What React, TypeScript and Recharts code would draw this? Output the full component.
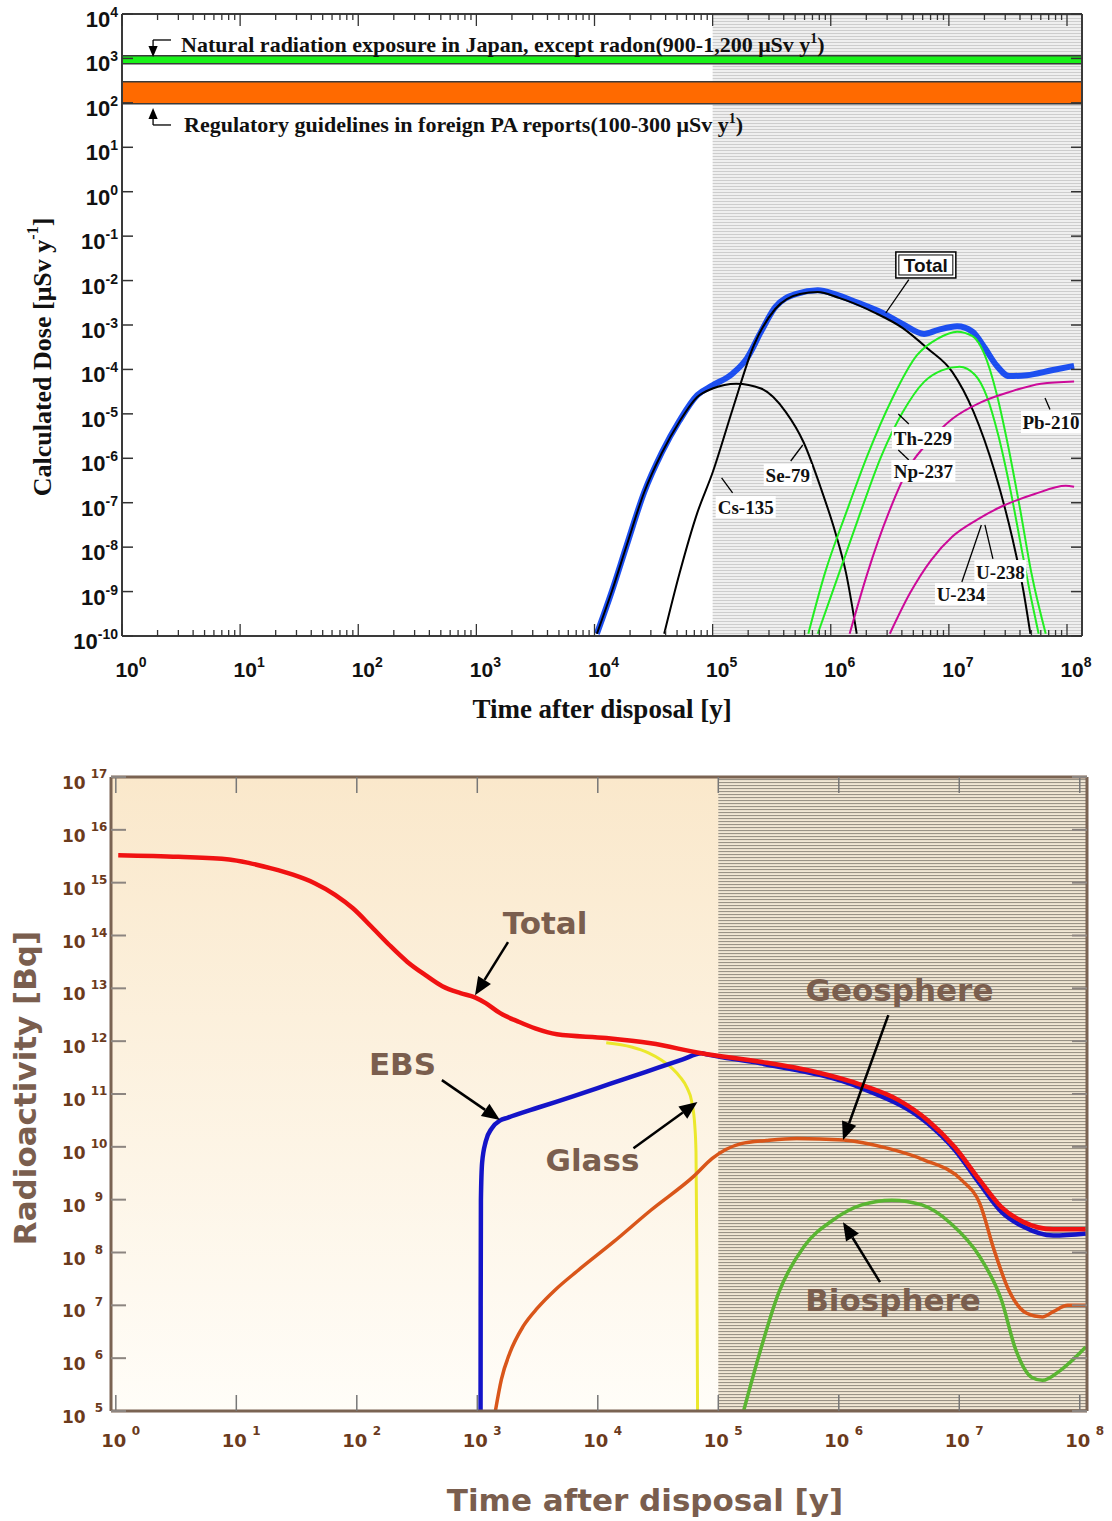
import React from 'react';
import { LineChart, Line, XAxis, YAxis, ReferenceArea, ReferenceLine, ReferenceDot, Label } from 'recharts';

type Pt = [number, number];

// ---- upper chart: log10(time [y]) vs log10(dose [uSv/y]) ----
const doseTotal: Pt[] = [
  [4.02, -9.95], [4.15, -8.97], [4.27, -7.98], [4.42, -6.77], [4.57, -5.87], [4.72, -5.15],
  [4.87, -4.58], [5.0, -4.36], [5.17, -4.09], [5.29, -3.75], [5.41, -3.15], [5.53, -2.6],
  [5.71, -2.3], [5.89, -2.22], [6.04, -2.31], [6.22, -2.49], [6.43, -2.72], [6.61, -2.98],
  [6.79, -3.2], [6.91, -3.11], [7.07, -3.03], [7.2, -3.15], [7.3, -3.5], [7.4, -3.9],
  [7.51, -4.15], [7.66, -4.13], [7.87, -4.02], [8.06, -3.92],
];
const doseSe79: Pt[] = [
  [4.02, -9.95], [4.15, -8.97], [4.27, -7.98], [4.42, -6.77], [4.57, -5.88], [4.72, -5.17],
  [4.87, -4.62], [5.0, -4.43], [5.2, -4.32], [5.41, -4.43], [5.62, -4.96], [5.77, -5.64],
  [5.92, -6.7], [6.04, -7.68], [6.13, -8.59], [6.22, -9.95],
];
const doseCs135: Pt[] = [
  [4.59, -9.95], [4.72, -8.59], [4.87, -7.23], [5.0, -6.32], [5.17, -4.89], [5.35, -3.45],
  [5.53, -2.64], [5.74, -2.3], [5.89, -2.26], [6.07, -2.39], [6.37, -2.72], [6.61, -3.07],
  [6.82, -3.53], [7.03, -4.06], [7.21, -4.96], [7.39, -6.32], [7.54, -7.83], [7.63, -8.97],
  [7.69, -9.95],
];
const doseNp237: Pt[] = [
  [5.81, -9.95], [5.95, -8.59], [6.13, -7.23], [6.31, -5.94], [6.52, -4.66], [6.73, -3.68],
  [6.91, -3.3], [7.07, -3.15], [7.2, -3.25], [7.3, -3.65], [7.4, -4.5], [7.5, -5.7],
  [7.6, -7.1], [7.7, -8.6], [7.82, -9.95],
];
const doseTh229: Pt[] = [
  [5.89, -9.95], [6.07, -8.59], [6.25, -7.23], [6.43, -5.94], [6.61, -4.96], [6.79, -4.28],
  [6.94, -4.02], [7.09, -3.94], [7.22, -4.12], [7.32, -4.6], [7.42, -5.5], [7.52, -6.7],
  [7.62, -8.1], [7.7, -9.2], [7.76, -9.95],
];
const dosePb210: Pt[] = [
  [6.16, -9.95], [6.31, -8.59], [6.49, -7.23], [6.67, -6.17], [6.85, -5.57], [7.03, -5.11],
  [7.27, -4.74], [7.51, -4.51], [7.78, -4.32], [8.06, -4.27],
];
const doseU238U234: Pt[] = [
  [6.5, -9.95], [6.67, -9.04], [6.85, -8.29], [7.03, -7.76], [7.24, -7.38], [7.45, -7.08],
  [7.72, -6.81], [7.99, -6.62], [8.06, -6.64],
];
const naturalBand = [760, 1150]; // uSv/y, as drawn
const regulatoryBand = [95, 300];

// ---- lower chart: log10(time [y]) vs log10(activity [Bq]) ----
const actTotal: Pt[] = [
  [0.02, 15.52], [0.52, 15.49], [0.94, 15.44], [1.11, 15.37], [1.29, 15.27], [1.47, 15.15],
  [1.65, 14.99], [1.82, 14.77], [1.97, 14.51], [2.12, 14.17], [2.27, 13.82], [2.42, 13.5],
  [2.57, 13.25], [2.71, 13.04], [2.86, 12.91], [2.98, 12.83], [3.07, 12.72], [3.19, 12.53],
  [3.34, 12.37], [3.48, 12.24], [3.66, 12.13], [4.07, 12.06], [4.44, 11.96], [4.86, 11.77],
  [5.35, 11.61], [5.8, 11.42], [6.19, 11.17], [6.5, 10.88], [6.74, 10.5], [6.96, 10.0],
  [7.17, 9.37], [7.35, 8.86], [7.53, 8.58], [7.78, 8.44], [8.05, 8.44],
];
const actEbs: Pt[] = [
  [3.027, 5.0], [3.028, 7.0], [3.03, 9.0], [3.04, 9.7], [3.07, 10.1], [3.12, 10.35],
  [3.19, 10.5], [3.25, 10.55], [3.5, 10.74], [3.8, 10.96], [4.1, 11.19], [4.4, 11.42],
  [4.7, 11.65], [4.86, 11.77], [4.9, 11.75], [5.35, 11.58], [6.19, 11.11], [6.74, 10.44],
  [6.96, 9.95], [7.17, 9.3], [7.35, 8.77], [7.53, 8.49], [7.78, 8.32], [8.05, 8.36],
];
const actGlass: Pt[] = [
  [4.07, 11.97], [4.28, 11.89], [4.42, 11.78], [4.53, 11.64], [4.62, 11.48], [4.68, 11.33],
  [4.74, 11.12], [4.78, 10.85], [4.805, 10.4], [4.815, 9.9], [4.822, 8.0], [4.828, 5.0],
];
const actGeosphere: Pt[] = [
  [3.15, 5.0], [3.2, 5.6], [3.27, 6.1], [3.38, 6.6], [3.5, 6.95], [3.65, 7.3], [3.83, 7.65],
  [4.13, 8.2], [4.44, 8.8], [4.8, 9.45], [4.95, 9.78], [5.19, 10.06], [5.4, 10.12], [5.65, 10.16],
  [6.04, 10.13], [6.41, 9.97], [6.71, 9.75], [7.02, 9.37], [7.17, 8.93], [7.29, 8.04], [7.41, 7.29],
  [7.56, 6.85], [7.69, 6.78], [7.78, 6.88], [7.9, 7.0], [8.05, 7.0],
];
const actBiosphere: Pt[] = [
  [5.21, 5.0], [5.35, 6.15], [5.5, 7.23], [5.71, 8.11], [5.95, 8.61], [6.19, 8.9], [6.44, 8.99],
  [6.69, 8.9], [6.93, 8.55], [7.17, 7.92], [7.35, 7.1], [7.47, 6.15], [7.6, 5.64], [7.69, 5.58],
  [7.84, 5.77], [8.05, 6.21],
];

// ---- axes ----
const doseXDecades = [0, 1, 2, 3, 4, 5, 6, 7, 8];
const doseYDecades = [-10, -9, -8, -7, -6, -5, -4, -3, -2, -1, 0, 1, 2, 3, 4];
const actXDecades = [0, 1, 2, 3, 4, 5, 6, 7, 8];
const actYDecades = [5, 6, 7, 8, 9, 10, 11, 12, 13, 14, 15, 16, 17];
const minorSteps = [2, 3, 4, 5, 6, 7, 8, 9];

const doseXTicks = [
  ...doseXDecades,
  ...doseXDecades.slice(0, -1).flatMap((d) => minorSteps.map((k) => d + Math.log10(k))),
].sort((a, b) => a - b);

const rows = (pts: Pt[]) => pts.map(([t, v]) => ({ t, v }));

const SERIF = '"Liberation Serif", "Times New Roman", serif';
const SANS = '"Liberation Sans", Arial, sans-serif';
const VERD = '"DejaVu Sans", Verdana, sans-serif';
const BROWN = '#7a5e4e';
const TICK_BROWN = '#6b3a1c';

function DoseXTick({ x, y, payload, side }: any) {
  const v = payload.value;
  const major = Number.isInteger(v);
  const dir = side === 'top' ? 1 : -1;
  return (
    <g>
      <line x1={x} y1={y} x2={x} y2={y + dir * (major ? 12 : 6)} stroke="#333" strokeWidth={1.3} />
      {major && side === 'bottom' && (
        <text x={x + 9} y={y + 41} textAnchor="middle" fontFamily={SANS} fontWeight="bold" fontSize={21} fill="#111">
          10<tspan dy={-10} fontSize={14}>{v}</tspan>
        </text>
      )}
    </g>
  );
}

function DoseYTick({ x, y, payload, side }: any) {
  const dir = side === 'left' ? 1 : -1;
  return (
    <g>
      <line x1={x} y1={y} x2={x + dir * 11} y2={y} stroke="#333" strokeWidth={1.5} />
      {side === 'left' && (
        <text x={x - 4} y={y + 13} textAnchor="end" fontFamily={SANS} fontWeight="bold" fontSize={22} fill="#111">
          10<tspan dy={-10} fontSize={14}>{payload.value}</tspan>
        </text>
      )}
    </g>
  );
}

function ActXTick({ x, y, payload, side }: any) {
  const dir = side === 'top' ? 1 : -1;
  return (
    <g>
      <line x1={x} y1={y} x2={x} y2={y + dir * 16} stroke="#777" strokeWidth={1.5} />
      {side === 'bottom' && (
        <g fontFamily={VERD} fontWeight="bold" fill={TICK_BROWN}>
          <text x={x - 2} y={y + 36} textAnchor="middle" fontSize={18}>10</text>
          <text x={x + 16} y={y + 24} textAnchor="start" fontSize={12}>{payload.value}</text>
        </g>
      )}
    </g>
  );
}

function ActYTick({ x, y, payload, side }: any) {
  const dir = side === 'left' ? 1 : -1;
  return (
    <g>
      <line x1={x} y1={y} x2={x + dir * 15} y2={y} stroke="#8c8580" strokeWidth={2} />
      {side === 'left' && (
        <g fontFamily={VERD} fontWeight="bold" fill={TICK_BROWN}>
          <text x={x - 49} y={y + 12} textAnchor="start" fontSize={17}>10</text>
          <text x={x - 12} y={y + 1} textAnchor="middle" fontSize={12}>{payload.value}</text>
        </g>
      )}
    </g>
  );
}

// line with a filled arrow head at its second point
const arrow = (color: string, width: number, head: number) => (p: any) => {
  const { x1, y1, x2, y2 } = p;
  const a = Math.atan2(y2 - y1, x2 - x1);
  const hx = x2 - head * Math.cos(a);
  const hy = y2 - head * Math.sin(a);
  const nx = -Math.sin(a) * head * 0.42;
  const ny = Math.cos(a) * head * 0.42;
  return (
    <g>
      <line x1={x1} y1={y1} x2={hx} y2={hy} stroke={color} strokeWidth={width} />
      <polygon points={`${x2},${y2} ${hx + nx},${hy + ny} ${hx - nx},${hy - ny}`} fill={color} />
    </g>
  );
};

const nuclide = (text: string, w: number) => (p: any) => (
  <g>
    <rect x={p.cx - w / 2} y={p.cy - 11} width={w} height={22} fill="#fff" />
    <text x={p.cx} y={p.cy + 1} textAnchor="middle" dominantBaseline="central" fontFamily={SERIF} fontWeight="bold" fontSize={19} fill="#111">
      {text}
    </text>
  </g>
);

const bigNote = (text: string) => (p: any) => (
  <text x={p.cx} y={p.cy} textAnchor="middle" dominantBaseline="central" fontFamily={VERD} fontWeight="bold" fontSize={31} fill={BROWN}>
    {text}
  </text>
);

function DoseChart() {
  const lineProps = { dataKey: 'v', type: 'monotone' as const, dot: false, isAnimationActive: false };
  const frame = { stroke: '#3a3a3a', strokeWidth: 2 };
  return (
    <LineChart width={1112} height={740} margin={{ top: 13, right: 29, bottom: 103, left: 121 }}>
      <defs>
        <pattern id="doseStripes" width={8} height={3} patternUnits="userSpaceOnUse">
          <rect width={8} height={3} fill="#efefef" />
          <rect width={8} height={1} fill="#cdcdcd" />
        </pattern>
      </defs>
      <XAxis
        dataKey="t" type="number" domain={[0, 8.127]} allowDataOverflow ticks={doseXTicks} interval={0}
        height={1} tickSize={0} tickMargin={0} tickLine={false} axisLine={frame}
        tick={(p: any) => <DoseXTick {...p} side="bottom" />}
      >
        <Label
          content={(p: any) => (
            <text x={p.viewBox.x + p.viewBox.width / 2} y={p.viewBox.y + 82} textAnchor="middle" fontFamily={SERIF} fontWeight="bold" fontSize={27} fill="#111">
              Time after disposal [y]
            </text>
          )}
        />
      </XAxis>
      <XAxis
        xAxisId="top" orientation="top" dataKey="t" type="number" domain={[0, 8.127]} allowDataOverflow
        ticks={doseXTicks} interval={0} height={1} tickSize={0} tickMargin={0} tickLine={false}
        axisLine={frame} tick={(p: any) => <DoseXTick {...p} side="top" />}
      />
      <YAxis
        type="number" domain={[-10, 4]} allowDataOverflow ticks={doseYDecades} interval={0} width={1}
        tickSize={0} tickMargin={0} tickLine={false} axisLine={frame}
        tick={(p: any) => <DoseYTick {...p} side="left" />}
      >
        <Label
          content={() => {
            const cx = 42;
            const cy = 357;
            return (
              <text x={cx} y={cy} transform={`rotate(-90 ${cx} ${cy})`} textAnchor="middle" dominantBaseline="central" fontFamily={SERIF} fontWeight="bold" fontSize={26} fill="#111">
                Calculated Dose [μSv y<tspan dy={-10} fontSize={16}>-1</tspan><tspan dy={10}>]</tspan>
              </text>
            );
          }}
        />
      </YAxis>
      <YAxis
        yAxisId="right" orientation="right" type="number" domain={[-10, 4]} allowDataOverflow ticks={doseYDecades}
        interval={0} width={1} tickSize={0} tickMargin={0} tickLine={false}
        axisLine={frame} tick={(p: any) => <DoseYTick {...p} side="right" />}
      />

      <ReferenceArea x1={5} x2={8.127} y1={-10} y2={4} fill="url(#doseStripes)" fillOpacity={1} stroke="none" />
      <ReferenceArea y1={Math.log10(naturalBand[0])} y2={Math.log10(naturalBand[1])} fill="#19f219" fillOpacity={1} stroke="#3a3a3a" strokeWidth={1.5} />
      <ReferenceArea y1={Math.log10(regulatoryBand[0])} y2={Math.log10(regulatoryBand[1])} fill="#ff6a00" fillOpacity={1} stroke="#3a3a3a" strokeWidth={1.5} />

      <Line {...lineProps} data={rows(doseTotal)} stroke="#1d4ff0" strokeWidth={6} />
      <Line {...lineProps} data={rows(doseSe79)} stroke="#000" strokeWidth={2} />
      <Line {...lineProps} data={rows(doseCs135)} stroke="#000" strokeWidth={2} />
      <Line {...lineProps} data={rows(doseNp237)} stroke="#22ee22" strokeWidth={2} />
      <Line {...lineProps} data={rows(doseTh229)} stroke="#22ee22" strokeWidth={2} />
      <Line {...lineProps} data={rows(dosePb210)} stroke="#cc0a99" strokeWidth={2} />
      <Line {...lineProps} data={rows(doseU238U234)} stroke="#cc0a99" strokeWidth={2} />

      {/* band captions with bent arrows */}
      <ReferenceLine segment={[{ x: 0.415, y: 3.415 }, { x: 0.263, y: 3.415 }]} stroke="#000" strokeWidth={1.3} />
      <ReferenceLine segment={[{ x: 0.263, y: 3.415 }, { x: 0.263, y: 3.032 }]} shape={arrow('#000', 1.3, 11)} />
      <ReferenceLine segment={[{ x: 0.415, y: 1.502 }, { x: 0.263, y: 1.502 }]} stroke="#000" strokeWidth={1.3} />
      <ReferenceLine segment={[{ x: 0.263, y: 1.502 }, { x: 0.263, y: 1.884 }]} shape={arrow('#000', 1.3, 11)} />
      <ReferenceDot
        x={0.5} y={3.145} r={0}
        shape={(p: any) => (
          <text x={p.cx} y={p.cy} fontFamily={SERIF} fontWeight="bold" fontSize={22} fill="#111">
            Natural radiation exposure in Japan, except radon(900-1,200 μSv y<tspan dy={-9} fontSize={14}>1</tspan>
            <tspan dy={9}>)</tspan>
          </text>
        )}
      />
      <ReferenceDot
        x={0.525} y={1.344} r={0}
        shape={(p: any) => (
          <text x={p.cx} y={p.cy} fontFamily={SERIF} fontWeight="bold" fontSize={22} fill="#111">
            Regulatory guidelines in foreign PA reports(100-300 μSv y<tspan dy={-9} fontSize={14}>1</tspan>
            <tspan dy={9}>)</tspan>
          </text>
        )}
      />

      {/* nuclide labels */}
      <ReferenceLine segment={[{ x: 6.661, y: -1.978 }, { x: 6.466, y: -2.73 }]} stroke="#000" strokeWidth={1.3} />
      <ReferenceDot
        x={6.805} y={-1.649} r={0}
        shape={(p: any) => (
          <g>
            <rect x={p.cx - 30} y={p.cy - 13} width={60} height={26} fill="#fff" stroke="#000" strokeWidth={1.5} />
            <rect x={p.cx - 27} y={p.cy - 10} width={54} height={20} fill="none" stroke="#000" strokeWidth={1} />
            <text x={p.cx} y={p.cy + 1} textAnchor="middle" dominantBaseline="central" fontFamily={SANS} fontWeight="bold" fontSize={19} fill="#111">
              Total
            </text>
          </g>
        )}
      />
      <ReferenceLine segment={[{ x: 5.661, y: -6.061 }, { x: 5.763, y: -5.701 }]} stroke="#000" strokeWidth={1.3} />
      <ReferenceDot x={5.636} y={-6.376} r={0} shape={nuclide('Se-79', 48)} />
      <ReferenceLine segment={[{ x: 5.076, y: -6.443 }, { x: 5.169, y: -6.781 }]} stroke="#000" strokeWidth={1.3} />
      <ReferenceDot x={5.28} y={-7.096} r={0} shape={nuclide('Cs-135', 60)} />
      <ReferenceLine segment={[{ x: 6.572, y: -5.003 }, { x: 6.661, y: -5.228 }]} stroke="#000" strokeWidth={1.3} />
      <ReferenceDot x={6.78} y={-5.543} r={0} shape={nuclide('Th-229', 62)} />
      <ReferenceLine segment={[{ x: 6.572, y: -5.813 }, { x: 6.661, y: -6.038 }]} stroke="#000" strokeWidth={1.3} />
      <ReferenceDot x={6.784} y={-6.286} r={0} shape={nuclide('Np-237', 64)} />
      <ReferenceLine segment={[{ x: 7.814, y: -4.643 }, { x: 7.856, y: -4.902 }]} stroke="#000" strokeWidth={1.3} />
      <ReferenceDot x={7.864} y={-5.183} r={0} shape={nuclide('Pb-210', 60)} />
      <ReferenceLine segment={[{ x: 7.305, y: -7.501 }, { x: 7.373, y: -8.266 }]} stroke="#000" strokeWidth={1.3} />
      <ReferenceDot x={7.436} y={-8.537} r={0} shape={nuclide('U-238', 52)} />
      <ReferenceLine segment={[{ x: 7.275, y: -7.501 }, { x: 7.11, y: -8.784 }]} stroke="#000" strokeWidth={1.3} />
      <ReferenceDot x={7.102} y={-9.054} r={0} shape={nuclide('U-234', 52)} />
    </LineChart>
  );
}

function ActivityChart() {
  const lineProps = { dataKey: 'v', type: 'monotone' as const, dot: false, isAnimationActive: false };
  const frame = { stroke: '#7a6352', strokeWidth: 3 };
  return (
    <LineChart width={1112} height={781} margin={{ top: 36, right: 24, bottom: 109, left: 110 }}>
      <defs>
        <linearGradient id="actBg" x1="0" y1="0" x2="0" y2="1">
          <stop offset="0%" stopColor="#fae8cb" />
          <stop offset="100%" stopColor="#fffdf8" />
        </linearGradient>
        <pattern id="actStripes" width={8} height={3} patternUnits="userSpaceOnUse">
          <rect width={8} height={3} fill="#f1e7d4" />
          <rect width={8} height={1.1} fill="#9a9386" />
        </pattern>
      </defs>
      <XAxis
        dataKey="t" type="number" domain={[-0.04, 8.06]} allowDataOverflow ticks={actXDecades} interval={0}
        height={1} tickSize={0} tickMargin={0} tickLine={false} axisLine={frame}
        tick={(p: any) => <ActXTick {...p} side="bottom" />}
      >
        <Label
          content={(p: any) => (
            <text x={645} y={p.viewBox.y + 100} textAnchor="middle" fontFamily={VERD} fontWeight="bold" fontSize={31} fill={BROWN}>
              Time after disposal [y]
            </text>
          )}
        />
      </XAxis>
      <XAxis
        xAxisId="top" orientation="top" dataKey="t" type="number" domain={[-0.04, 8.06]} allowDataOverflow
        ticks={actXDecades} interval={0} height={1} tickSize={0} tickMargin={0} tickLine={false} axisLine={frame}
        tick={(p: any) => <ActXTick {...p} side="top" />}
      />
      <YAxis
        type="number" domain={[5, 17]} allowDataOverflow ticks={actYDecades} interval={0} width={1}
        tickSize={0} tickMargin={0} tickLine={false} axisLine={frame}
        tick={(p: any) => <ActYTick {...p} side="left" />}
      >
        <Label
          content={() => {
            const cx = 25;
            const cy = 348;
            return (
              <text x={cx} y={cy} transform={`rotate(-90 ${cx} ${cy})`} textAnchor="middle" dominantBaseline="central" fontFamily={VERD} fontWeight="bold" fontSize={31} fill={BROWN}>
                Radioactivity [Bq]
              </text>
            );
          }}
        />
      </YAxis>
      <YAxis
        yAxisId="right" orientation="right" type="number" domain={[5, 17]} allowDataOverflow ticks={actYDecades}
        interval={0} width={1} tickSize={0} tickMargin={0} tickLine={false} axisLine={frame}
        tick={(p: any) => <ActYTick {...p} side="right" />}
      />

      <ReferenceArea x1={-0.04} x2={8.06} y1={5} y2={17} fill="url(#actBg)" fillOpacity={1} stroke="none" />
      <ReferenceArea x1={5} x2={8.06} y1={5} y2={17} fill="url(#actStripes)" fillOpacity={1} stroke="none" />

      <Line {...lineProps} data={rows(actGlass)} stroke="#ebe82c" strokeWidth={3} />
      <Line {...lineProps} data={rows(actGeosphere)} stroke="#d9561a" strokeWidth={3.5} />
      <Line {...lineProps} data={rows(actBiosphere)} stroke="#5ab532" strokeWidth={3.5} />
      <Line {...lineProps} data={rows(actEbs)} stroke="#1414c8" strokeWidth={4.5} />
      <Line {...lineProps} data={rows(actTotal)} stroke="#f01212" strokeWidth={4.5} />

      <ReferenceDot x={3.562} y={14.233} r={0} shape={bigNote('Total')} />
      <ReferenceLine segment={[{ x: 3.255, y: 13.873 }, { x: 2.981, y: 12.87 }]} shape={arrow('#000', 2.5, 18)} />
      <ReferenceDot x={2.379} y={11.566} r={0} shape={bigNote('EBS')} />
      <ReferenceLine segment={[{ x: 2.706, y: 11.263 }, { x: 3.188, y: 10.506 }]} shape={arrow('#000', 2.5, 18)} />
      <ReferenceDot x={3.956} y={9.748} r={0} shape={bigNote('Glass')} />
      <ReferenceLine segment={[{ x: 4.296, y: 9.975 }, { x: 4.827, y: 10.847 }]} shape={arrow('#000', 2.5, 18)} />
      <ReferenceDot x={6.504} y={12.968} r={0} shape={bigNote('Geosphere')} />
      <ReferenceLine segment={[{ x: 6.411, y: 12.494 }, { x: 6.035, y: 10.127 }]} shape={arrow('#000', 2.5, 18)} />
      <ReferenceDot x={6.45} y={7.097} r={0} shape={bigNote('Biosphere')} />
      <ReferenceLine segment={[{ x: 6.342, y: 7.438 }, { x: 6.035, y: 8.574 }]} shape={arrow('#000', 2.5, 18)} />
    </LineChart>
  );
}

export default function App() {
  return (
    <div style={{ position: 'absolute', left: 0, top: 0, width: 1112, height: 1521, background: '#fff' }}>
      <div style={{ position: 'absolute', left: 0, top: 0 }}>
        <DoseChart />
      </div>
      <div style={{ position: 'absolute', left: 0, top: 740 }}>
        <ActivityChart />
      </div>
    </div>
  );
}
